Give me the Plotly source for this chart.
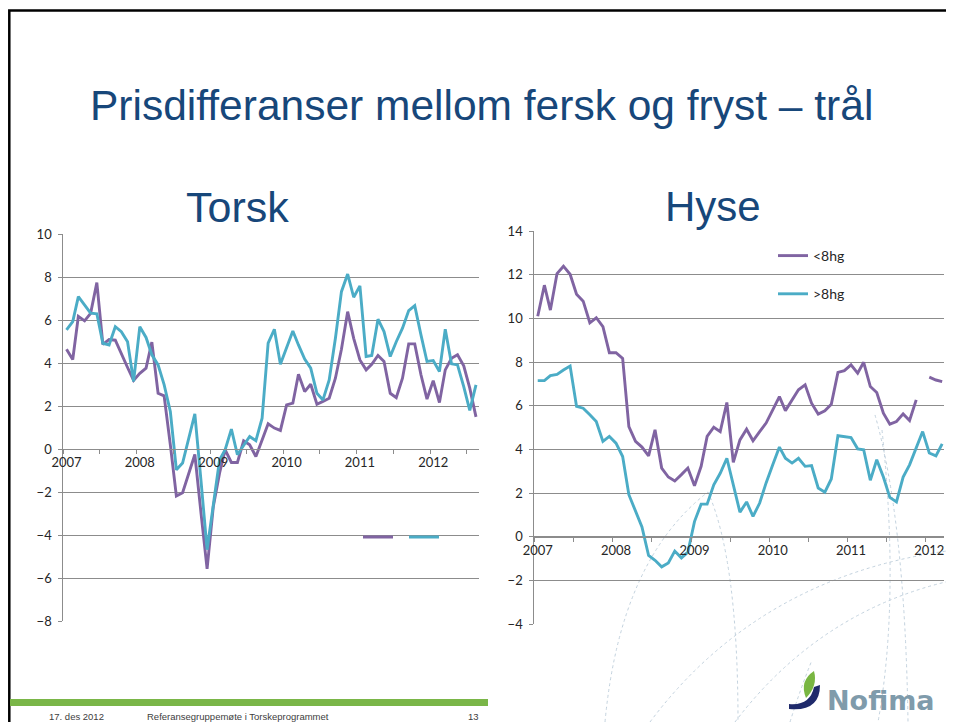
import pandas as pd
import plotly.graph_objects as go

W, H = 954, 722
OFF = 8  # the page body margin shifts the figure by 8px

# Torsk: monthly price difference, Jan 2007 - Aug 2012
torsk_months = pd.date_range("2007-01-01", periods=68, freq="MS")
torsk_small = [4.65, 4.17, 6.18, 5.97, 6.32, 7.75, 4.88, 5.10, 5.07, 4.42,
               3.80, 3.20, 3.53, 3.77, 4.98, 2.60, 2.48, 0.20, -2.18, -2.03,
               -1.15, -0.25, -3.00, -5.57, -2.67, -1.12, -0.03, -0.62, -0.62, 0.39,
               0.20, -0.34, 0.43, 1.18, 0.98, 0.87, 2.06, 2.14, 3.49, 2.68,
               3.02, 2.09, 2.22, 2.37, 3.30, 4.65, 6.40, 5.16, 4.15, 3.69,
               3.95, 4.36, 4.08, 2.60, 2.40, 3.30, 4.90, 4.90, 3.46, 2.33,
               3.19, 2.17, 3.69, 4.23, 4.39, 3.88, 2.84, 1.50]
torsk_large = [5.55, 5.94, 7.10, 6.71, 6.33, 6.30, 4.93, 4.85, 5.70, 5.47,
               5.00, 3.15, 5.70, 5.20, 4.39, 3.92, 3.00, 1.75, -0.96, -0.65,
               0.51, 1.64, -1.50, -4.68, -2.60, -0.50, -0.03, 0.93, -0.26, 0.20,
               0.59, 0.39, 1.44, 4.93, 5.58, 3.95, 4.70, 5.50, 4.85, 4.19,
               3.77, 2.60, 2.29, 3.22, 5.16, 7.33, 8.15, 7.07, 7.60, 4.31,
               4.36, 6.05, 5.47, 4.31, 5.00, 5.63, 6.45, 6.68, 5.32, 4.08,
               4.12, 3.61, 5.58, 3.97, 3.92, 2.91, 1.80, 2.99]

# Hyse: monthly price difference, Jan 2007 - Mar 2012 (gap Dec 2011 for <8hg)
hyse_months = pd.date_range("2007-01-01", periods=63, freq="MS")
hyse_small = [10.10, 11.52, 10.38, 12.05, 12.39, 12.02, 11.11, 10.79, 9.80, 10.03,
              9.62, 8.43, 8.43, 8.17, 5.05, 4.37, 4.11, 3.71, 4.90, 3.15,
              2.74, 2.56, 2.85, 3.15, 2.34, 3.23, 4.60, 5.02, 4.82, 6.15,
              3.41, 4.44, 4.93, 4.40, 4.82, 5.21, 5.81, 6.42, 5.78, 6.24,
              6.73, 6.96, 6.12, 5.62, 5.77, 6.07, 7.53, 7.61, 7.87, 7.49,
              7.99, 6.88, 6.61, 5.66, 5.16, 5.28, 5.63, 5.33, 6.27, None,
              7.31, 7.18, 7.11]
hyse_large = [7.15, 7.15, 7.38, 7.44, 7.64, 7.82, 5.97, 5.89, 5.59, 5.28,
              4.37, 4.60, 4.29, 3.68, 1.93, 1.22, 0.46, -0.85, -1.07, -1.37,
              -1.19, -0.65, -0.96, -0.70, 0.70, 1.50, 1.50, 2.38, 2.91, 3.60,
              2.40, 1.13, 1.60, 0.94, 1.55, 2.47, 3.30, 4.11, 3.60, 3.38,
              3.60, 3.23, 3.26, 2.24, 2.05, 2.65, 4.63, 4.60, 4.55, 4.03,
              3.99, 2.59, 3.53, 2.74, 1.81, 1.60, 2.74, 3.30, 4.06, 4.82,
              3.84, 3.71, 4.26]

year_ticks = ["2007-01-01", "2008-01-01", "2009-01-01", "2010-01-01", "2011-01-01", "2012-01-01"]
year_labels = ["2007", "2008", "2009", "2010", "2011", "2012"]

PURPLE = "#8064a2"
CYAN = "#4bacc6"
GRID = "#8c8c8c"
BLUE = "#17477a"
TICKFONT = dict(family="Lato, Noto Sans, sans-serif", size=13, color="#262626")


def px(x):
    return (x - OFF) / W


def py(y):
    return 1 - (y - OFF) / H


fig = go.Figure()

fig.add_trace(go.Scatter(x=torsk_months, y=torsk_small, name="", mode="lines",
                         line=dict(color=PURPLE, width=2.9), xaxis="x", yaxis="y",
                         legend="legend2"))
fig.add_trace(go.Scatter(x=torsk_months, y=torsk_large, name="", mode="lines",
                         line=dict(color=CYAN, width=2.9), xaxis="x", yaxis="y",
                         legend="legend2"))
fig.add_trace(go.Scatter(x=hyse_months, y=hyse_small, name="<8hg", mode="lines",
                         line=dict(color=PURPLE, width=2.9), xaxis="x2", yaxis="y2",
                         legendgroup="a"))
fig.add_trace(go.Scatter(x=hyse_months, y=hyse_large, name=">8hg", mode="lines",
                         line=dict(color=CYAN, width=2.9), xaxis="x2", yaxis="y2",
                         legendgroup="b"))

# plot areas in pixels: (left, right, top, bottom)
t_box = (63.3, 479, 234.3, 621)
h_box = (534.3, 944.3, 231, 624.3)
t_yr = [-8, 10]
h_yr = [-4, 14]


def zero_pos(box, yr):
    d0, d1 = py(box[3]), py(box[2])
    return d0 + (0 - yr[0]) / (yr[1] - yr[0]) * (d1 - d0)


def xax(box, yr, rng):
    return dict(domain=[px(box[0]), px(box[1])], range=rng, type="date",
                anchor="free", position=zero_pos(box, yr), automargin=False,
                showgrid=False, zeroline=False, showline=True, linecolor=GRID, linewidth=1,
                tickvals=year_ticks, ticktext=year_labels, ticks="",
                ticklabelstandoff=1, tickfont=TICKFONT,
                minor=dict(ticks="outside", ticklen=4, tickcolor=GRID,
                           tick0="2006-12-16", dtick="M6", showgrid=False))


def yax(box, yr, anchor):
    return dict(domain=[py(box[3]), py(box[2])], range=yr, dtick=2, anchor=anchor,
                automargin=False,
                showgrid=True, gridcolor=GRID, gridwidth=1, zeroline=False,
                showline=True, linecolor=GRID, linewidth=1,
                ticks="outside", ticklen=4, tickcolor=GRID,
                ticklabelstandoff=4, tickfont=TICKFONT)


fig.update_layout(
    width=W, height=H, autosize=False,
    margin=dict(l=0, r=0, t=0, b=0, pad=0, autoexpand=False),
    paper_bgcolor="white", plot_bgcolor="rgba(0,0,0,0)",
    xaxis=xax(t_box, t_yr, ["2006-12-16", "2012-08-16"]),
    yaxis=yax(t_box, t_yr, "x"),
    xaxis2=xax(h_box, h_yr, ["2006-12-16", "2012-03-11"]),
    yaxis2=yax(h_box, h_yr, "x2"),
    legend=dict(x=px(773), y=py(240), xanchor="left", yanchor="top",
                traceorder="grouped", tracegroupgap=17, bgcolor="rgba(0,0,0,0)",
                font=dict(family="Lato, Noto Sans, sans-serif", size=14, color="#262626"),
                itemwidth=30),
    legend2=dict(x=px(358), y=py(537), xanchor="left", yanchor="middle",
                 orientation="h", entrywidth=1, bgcolor="rgba(0,0,0,0)",
                 font=dict(size=12)),
    showlegend=True,
)

# slide texts
title_font = dict(family="Liberation Sans, Arial, sans-serif", size=42, color=BLUE)
for txt, x, y, s in [("Prisdifferanser mellom fersk og fryst – trål", 481.5, 105.5, 42.5),
                     ("Torsk", 237.5, 207, 43), ("Hyse", 713, 207, 42)]:
    fig.add_annotation(text=txt, x=px(x), y=py(y), xref="paper", yref="paper", showarrow=False,
                       xanchor="center", yanchor="middle", font=dict(title_font, size=s))

footer_font = dict(family="Liberation Sans, Arial, sans-serif", size=9.5, color="#404040")
for txt, x in [("17. des 2012", 47), ("Referansegruppemøte i Torskeprogrammet", 145), ("13", 466)]:
    fig.add_annotation(text=txt, x=px(x), y=py(716), xref="paper", yref="paper", showarrow=False,
                       xanchor="left", yanchor="middle", font=footer_font)

fig.add_annotation(text="<b>Nofima</b>", x=px(825), y=py(700), xref="paper", yref="paper",
                   showarrow=False, xanchor="left", yanchor="middle",
                   font=dict(family="DejaVu Sans, sans-serif", size=27, color="#7f9bab"))


def path(pts, close=False):
    s = " ".join(f"{c} {px(a):.5f},{py(b):.5f}" if c else f"{px(a):.5f},{py(b):.5f}"
                 for c, a, b in pts)
    return s + " Z" if close else s


# slide frame and footer bar
fig.add_shape(type="rect", xref="paper", yref="paper", x0=px(9.3), x1=px(980), y0=py(750), y1=py(10.5),
              line=dict(color="black", width=2.5), layer="below")
fig.add_shape(type="rect", xref="paper", yref="paper", x0=px(10), x1=px(488), y0=py(706), y1=py(699),
              line=dict(width=0), fillcolor="#7ab648", layer="below")

# background dotted arcs of the template
arcs = [
    [("M", 605, 722), ("Q", 620, 560), ("", 708, 492)],
    [("M", 708, 492), ("Q", 738, 560), ("", 738, 722)],
    [("M", 650, 722), ("Q", 760, 575), ("", 954, 550)],
    [("M", 735, 722), ("Q", 820, 610), ("", 954, 580)],
    [("M", 875, 415), ("Q", 905, 520), ("", 908, 722)],
    [("M", 882, 430), ("Q", 900, 600), ("", 878, 722)],
    [("M", 790, 722), ("Q", 800, 690), ("", 812, 660)],
]
for a in arcs:
    fig.add_shape(type="path", xref="paper", yref="paper", path=path(a),
                  line=dict(color="#c3d2de", width=1, dash="dot"), layer="below")

# logo swoosh
fig.add_shape(type="path", xref="paper", yref="paper",
              path=path([("M", 814, 671), ("Q", 799, 681), ("", 806, 698), ("Q", 818, 686), ("", 814, 671)], True),
              line=dict(width=0), fillcolor="#79b642")
fig.add_shape(type="path", xref="paper", yref="paper",
              path=path([("M", 789, 704), ("Q", 810, 706), ("", 814, 687), ("L", 820, 685),
                         ("Q", 820, 712), ("", 789, 709)], True),
              line=dict(width=0), fillcolor="#1f2a6b")

fig.write_html("out.html", config={"displayModeBar": False})
